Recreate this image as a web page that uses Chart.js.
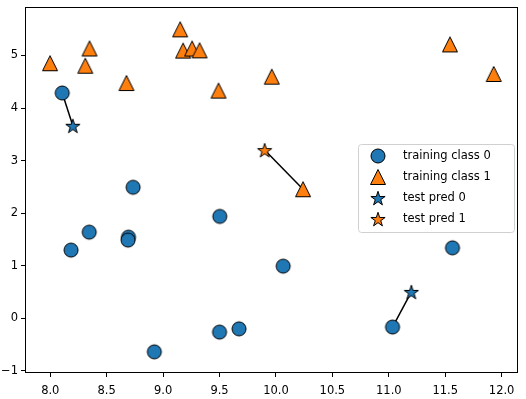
<!DOCTYPE html>
<html>
<head>
<meta charset="utf-8">
<script src="https://cdn.jsdelivr.net/npm/chart.js@4.4.1/dist/chart.umd.min.js"></script>
<style>
  html, body { margin: 0; padding: 0; background: #fff; }
  #wrap { width: 526px; height: 399px; position: relative; }
</style>
</head>
<body>
<div id="wrap"><canvas id="knn"></canvas></div>
<script>
// training data (forge)
const trainX = [9.963, 11.033, 11.542, 8.693, 8.106, 8.310, 11.930, 9.673, 8.348, 8.675,
                9.177, 10.240, 8.689, 8.922, 9.491, 9.257, 7.998, 8.184, 8.734, 9.323,
                10.064, 9.500, 8.345, 9.502, 9.151, 11.564];
const trainY = [4.597, -0.168, 5.211, 1.543, 4.287, 4.806, 4.649, -0.203, 5.134, 4.476,
                5.093, 2.455, 1.487, -0.640, 4.332, 5.133, 4.853, 1.296, 2.492, 5.098,
                0.991, -0.264, 1.638, 1.938, 5.498, 1.339];
const trainClass = [1, 0, 1, 0, 0, 1, 1, 0, 1, 1, 1, 1, 0, 0, 1, 1, 1, 0, 0, 1, 0, 0, 0, 0, 1, 0];

// test points
const testX = [8.2, 9.9, 11.2];
const testY = [3.662, 3.2, 0.5];

const xTicks = [8.0, 8.5, 9.0, 9.5, 10.0, 10.5, 11.0, 11.5, 12.0];
const yTicks = [-1, 0, 1, 2, 3, 4, 5];
const legendLabels = ['training class 0', 'training class 1', 'test pred 0', 'test pred 1'];

const BLUE = '#1f77b4';
const ORANGE = '#ff7f0e';
const FONT = "'DejaVu Sans', sans-serif";

function makeMarker(kind, color) {
    const c = document.createElement('canvas');
    c.width = 20; c.height = 20;
    const g = c.getContext('2d');
    g.fillStyle = color;
    g.strokeStyle = '#000';
    g.lineWidth = 1;
    g.lineJoin = 'miter';
    g.beginPath();
    if (kind === 'circle') {
        g.arc(10, 10, 7, 0, Math.PI * 2);
    } else if (kind === 'triangle') {
        g.moveTo(10, 2.5);
        g.lineTo(17.5, 17.5);
        g.lineTo(2.5, 17.5);
        g.closePath();
    } else {
        const R = 7.5, r = R * 0.382;
        for (let i = 0; i < 10; i++) {
            const rad = i % 2 === 0 ? R : r;
            const a = -Math.PI / 2 + i * Math.PI / 5;
            const px = 10 + rad * Math.cos(a), py = 10.8 + rad * Math.sin(a);
            if (i === 0) g.moveTo(px, py); else g.lineTo(px, py);
        }
        g.closePath();
    }
    g.fill();
    g.stroke();
    return c;
}

const markers = [
    makeMarker('circle', BLUE),
    makeMarker('triangle', ORANGE),
    makeMarker('star', BLUE),
    makeMarker('star', ORANGE)
];

// 1-nearest neighbour prediction for each test point
const testPred = testX.map((tx, i) => {
    let best = 0, bestD = Infinity;
    trainX.forEach((x, j) => {
        const d = (x - tx) ** 2 + (trainY[j] - testY[i]) ** 2;
        if (d < bestD) { bestD = d; best = j; }
    });
    return best;
});

const pts = (cls) => trainX.map((x, i) => ({ x: x, y: trainY[i], c: trainClass[i] }))
    .filter(p => p.c === cls).map(p => ({ x: p.x, y: p.y }));
const testPts = (cls) => testX.map((x, i) => ({ x: x, y: testY[i], c: trainClass[testPred[i]] }))
    .filter(p => p.c === cls).map(p => ({ x: p.x, y: p.y }));

const datasets = [
    { label: legendLabels[0], data: pts(0), pointStyle: markers[0], order: 1 },
    { label: legendLabels[1], data: pts(1), pointStyle: markers[1], order: 1 },
    { label: legendLabels[2], data: testPts(0), pointStyle: markers[2], order: 0 },
    { label: legendLabels[3], data: testPts(1), pointStyle: markers[3], order: 0 }
];

testX.forEach((tx, i) => {
    const n = testPred[i];
    datasets.push({
        type: 'line',
        label: 'nn' + i,
        data: [{ x: tx, y: testY[i] }, { x: trainX[n], y: trainY[n] }],
        borderColor: '#000',
        borderWidth: 1.5,
        pointRadius: 0,
        fill: false,
        order: 5
    });
});

const frameAndLegend = {
    id: 'frameAndLegend',
    afterDraw(chart) {
        const { ctx, chartArea: a } = chart;
        ctx.save();
        ctx.strokeStyle = '#000';
        ctx.lineWidth = 1;
        ctx.strokeRect(a.left + 0.5, a.top - 0.5, a.right - a.left - 1, a.bottom - a.top);

        // legend box
        const bx = 358.5, by = 144.5, bw = 156, bh = 88, rr = 3;
        ctx.beginPath();
        ctx.moveTo(bx + rr, by);
        ctx.arcTo(bx + bw, by, bx + bw, by + bh, rr);
        ctx.arcTo(bx + bw, by + bh, bx, by + bh, rr);
        ctx.arcTo(bx, by + bh, bx, by, rr);
        ctx.arcTo(bx, by, bx + bw, by, rr);
        ctx.closePath();
        ctx.fillStyle = 'rgba(255,255,255,0.8)';
        ctx.fill();
        ctx.strokeStyle = '#d0d0d0';
        ctx.stroke();

        ctx.font = '11.5px ' + FONT;
        ctx.fillStyle = '#000';
        ctx.textBaseline = 'middle';
        legendLabels.forEach((t, i) => {
            const cy = 156 + i * 21;
            ctx.drawImage(markers[i], 378 - 10, cy - 10);
            ctx.fillText(t, 403, cy + 0.5);
        });
        ctx.restore();
    }
};

const ctx = document.getElementById('knn').getContext('2d');
new Chart(ctx, {
    type: 'scatter',
    data: { datasets: datasets },
    options: {
        responsive: true,
        maintainAspectRatio: false,
        animation: false,
        layout: { padding: { left: 0, right: 5, top: 4, bottom: 0 } },
        elements: { point: { radius: 7, hoverRadius: 7 } },
        plugins: {
            legend: { display: false },
            tooltip: { enabled: false }
        },
        scales: {
            x: {
                type: 'linear',
                min: 7.776,
                max: 12.145,
                afterBuildTicks: (s) => { s.ticks = xTicks.map(v => ({ value: v })); },
                afterFit: (s) => { s.height = 26; s.paddingLeft = 0; s.paddingRight = 0; },
                grid: { drawOnChartArea: false, drawTicks: true, tickLength: 4, color: '#000' },
                border: { display: false },
                ticks: {
                    color: '#000',
                    font: { family: FONT, size: 11.5 },
                    padding: 7,
                    maxRotation: 0,
                    autoSkip: false,
                    callback: (v) => v.toFixed(1)
                }
            },
            y: {
                type: 'linear',
                min: -1.043,
                max: 5.904,
                afterBuildTicks: (s) => { s.ticks = yTicks.map(v => ({ value: v })); },
                afterFit: (s) => { s.width = 25; s.paddingTop = 0; s.paddingBottom = 0; },
                grid: { drawOnChartArea: false, drawTicks: true, tickLength: 4, color: '#000' },
                border: { display: false },
                ticks: {
                    color: '#000',
                    font: { family: FONT, size: 11.5 },
                    padding: 3,
                    autoSkip: false,
                    callback: (v) => (v < 0 ? '\u2212' + Math.abs(v) : String(v))
                }
            }
        }
    },
    plugins: [frameAndLegend]
});
</script>
</body>
</html>
